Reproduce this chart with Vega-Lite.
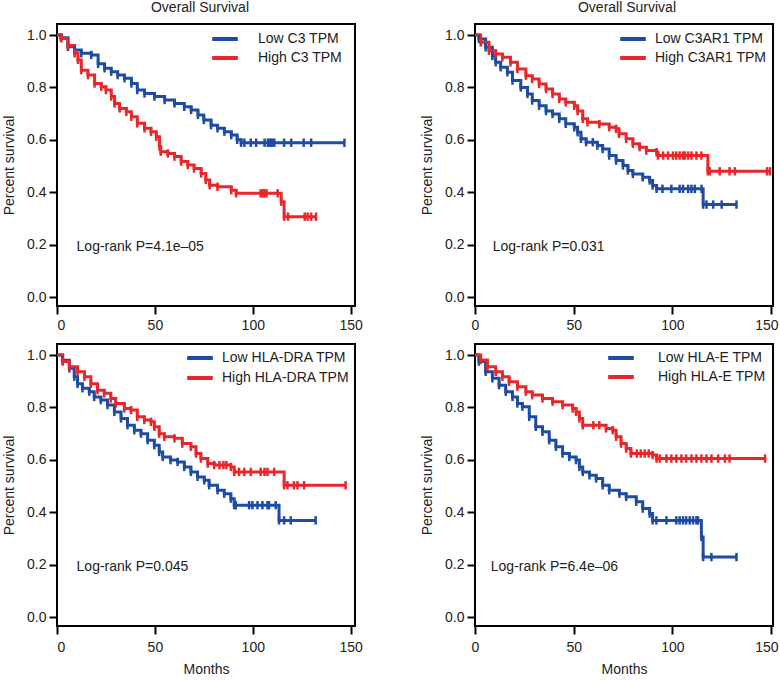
{
  "$schema": "https://vega.github.io/schema/vega-lite/v6.json",
  "padding": {"left": 1, "top": 0, "right": 0, "bottom": 0},
  "background": "white",
  "config": {
    "font": "Liberation Sans",
    "view": {"stroke": "black", "strokeWidth": 2},
    "axis": {"domain": false, "grid": false, "ticks": true, "tickColor": "black", "tickWidth": 2, "tickSize": 8, "labelFontSize": 14, "labelColor": "#222", "titleFontSize": 14, "titleFontWeight": "normal", "titleColor": "#222"},
    "title": {"fontSize": 14, "fontWeight": "normal", "color": "#222"},
    "legend": {"orient": "none", "symbolType": "M-1.6,0L1.6,0", "symbolSize": 256, "symbolStrokeWidth": 4, "labelFontSize": 14, "labelColor": "#222", "padding": 0, "rowPadding": 1}
  },
  "columns": 2,
  "spacing": {"row": 38, "column": 120},
  "bounds": "flush",
  "resolve": {"scale": {"color": "independent", "x": "independent", "y": "independent"}, "legend": {"color": "independent"}},
  "datasets": {
    "c3": [
      {"g":"Low C3 TPM","m":0,"s":1},{"g":"Low C3 TPM","m":2,"s":0.99},{"g":"Low C3 TPM","m":5.6,"s":0.955},{"g":"Low C3 TPM","m":9,"s":0.943},{"g":"Low C3 TPM","m":12.4,"s":0.93},{"g":"Low C3 TPM","m":17.5,"s":0.924},{"g":"Low C3 TPM","m":21,"s":0.89},{"g":"Low C3 TPM","m":24.3,"s":0.873},{"g":"Low C3 TPM","m":27.7,"s":0.86},{"g":"Low C3 TPM","m":31,"s":0.847},{"g":"Low C3 TPM","m":34.5,"s":0.835},{"g":"Low C3 TPM","m":38,"s":0.815},{"g":"Low C3 TPM","m":41,"s":0.79},{"g":"Low C3 TPM","m":44.7,"s":0.777},{"g":"Low C3 TPM","m":49.8,"s":0.765},{"g":"Low C3 TPM","m":55,"s":0.752},{"g":"Low C3 TPM","m":60,"s":0.739},{"g":"Low C3 TPM","m":65,"s":0.726},{"g":"Low C3 TPM","m":68.5,"s":0.714},{"g":"Low C3 TPM","m":72,"s":0.695},{"g":"Low C3 TPM","m":75,"s":0.676},{"g":"Low C3 TPM","m":78.7,"s":0.656},{"g":"Low C3 TPM","m":82,"s":0.644},{"g":"Low C3 TPM","m":85.5,"s":0.631},{"g":"Low C3 TPM","m":89,"s":0.618},{"g":"Low C3 TPM","m":92,"s":0.6},{"g":"Low C3 TPM","m":94,"s":0.589},{"g":"Low C3 TPM","m":95.7,"s":0.589},{"g":"Low C3 TPM","m":99,"s":0.589},{"g":"Low C3 TPM","m":101.7,"s":0.589},{"g":"Low C3 TPM","m":106,"s":0.589},{"g":"Low C3 TPM","m":107.7,"s":0.589},{"g":"Low C3 TPM","m":108.5,"s":0.589},{"g":"Low C3 TPM","m":109.4,"s":0.589},{"g":"Low C3 TPM","m":110,"s":0.589},{"g":"Low C3 TPM","m":111,"s":0.589},{"g":"Low C3 TPM","m":116,"s":0.589},{"g":"Low C3 TPM","m":119.6,"s":0.589},{"g":"Low C3 TPM","m":126,"s":0.589},{"g":"Low C3 TPM","m":129.8,"s":0.589},{"g":"Low C3 TPM","m":146.8,"s":0.589},
      {"g":"High C3 TPM","m":0,"s":1},{"g":"High C3 TPM","m":2.2,"s":0.987},{"g":"High C3 TPM","m":5.6,"s":0.96},{"g":"High C3 TPM","m":9,"s":0.93},{"g":"High C3 TPM","m":10.7,"s":0.905},{"g":"High C3 TPM","m":12.4,"s":0.866},{"g":"High C3 TPM","m":15.8,"s":0.847},{"g":"High C3 TPM","m":19.2,"s":0.815},{"g":"High C3 TPM","m":22.6,"s":0.803},{"g":"High C3 TPM","m":25,"s":0.79},{"g":"High C3 TPM","m":27.7,"s":0.765},{"g":"High C3 TPM","m":29.4,"s":0.739},{"g":"High C3 TPM","m":32,"s":0.72},{"g":"High C3 TPM","m":35.4,"s":0.707},{"g":"High C3 TPM","m":38,"s":0.688},{"g":"High C3 TPM","m":41,"s":0.663},{"g":"High C3 TPM","m":44.7,"s":0.644},{"g":"High C3 TPM","m":48,"s":0.631},{"g":"High C3 TPM","m":50.7,"s":0.612},{"g":"High C3 TPM","m":52.4,"s":0.574},{"g":"High C3 TPM","m":53,"s":0.555},{"g":"High C3 TPM","m":56.6,"s":0.548},{"g":"High C3 TPM","m":60,"s":0.536},{"g":"High C3 TPM","m":63.4,"s":0.517},{"g":"High C3 TPM","m":66.8,"s":0.504},{"g":"High C3 TPM","m":70,"s":0.491},{"g":"High C3 TPM","m":73.6,"s":0.472},{"g":"High C3 TPM","m":76,"s":0.447},{"g":"High C3 TPM","m":78,"s":0.427},{"g":"High C3 TPM","m":82,"s":0.421},{"g":"High C3 TPM","m":89,"s":0.408},{"g":"High C3 TPM","m":91.5,"s":0.396},{"g":"High C3 TPM","m":104,"s":0.396},{"g":"High C3 TPM","m":105,"s":0.396},{"g":"High C3 TPM","m":106,"s":0.396},{"g":"High C3 TPM","m":107,"s":0.396},{"g":"High C3 TPM","m":112.7,"s":0.396},{"g":"High C3 TPM","m":114.5,"s":0.364},{"g":"High C3 TPM","m":116,"s":0.307},{"g":"High C3 TPM","m":118,"s":0.307},{"g":"High C3 TPM","m":126.5,"s":0.307},{"g":"High C3 TPM","m":128,"s":0.307},{"g":"High C3 TPM","m":129.8,"s":0.307},{"g":"High C3 TPM","m":132.3,"s":0.307}
    ],
    "c3ar1": [
      {"g":"Low C3AR1 TPM","m":0,"s":1},{"g":"Low C3AR1 TPM","m":2,"s":0.985},{"g":"Low C3AR1 TPM","m":5.4,"s":0.953},{"g":"Low C3AR1 TPM","m":8.8,"s":0.92},{"g":"Low C3AR1 TPM","m":10.5,"s":0.896},{"g":"Low C3AR1 TPM","m":13,"s":0.877},{"g":"Low C3AR1 TPM","m":16.4,"s":0.858},{"g":"Low C3AR1 TPM","m":19,"s":0.826},{"g":"Low C3AR1 TPM","m":23.2,"s":0.8},{"g":"Low C3AR1 TPM","m":26.6,"s":0.775},{"g":"Low C3AR1 TPM","m":29,"s":0.75},{"g":"Low C3AR1 TPM","m":32.5,"s":0.73},{"g":"Low C3AR1 TPM","m":36,"s":0.71},{"g":"Low C3AR1 TPM","m":39.3,"s":0.699},{"g":"Low C3AR1 TPM","m":42.7,"s":0.68},{"g":"Low C3AR1 TPM","m":46,"s":0.661},{"g":"Low C3AR1 TPM","m":50.3,"s":0.648},{"g":"Low C3AR1 TPM","m":52,"s":0.629},{"g":"Low C3AR1 TPM","m":53.7,"s":0.604},{"g":"Low C3AR1 TPM","m":56.3,"s":0.591},{"g":"Low C3AR1 TPM","m":59.7,"s":0.591},{"g":"Low C3AR1 TPM","m":62,"s":0.578},{"g":"Low C3AR1 TPM","m":64.7,"s":0.565},{"g":"Low C3AR1 TPM","m":68,"s":0.54},{"g":"Low C3AR1 TPM","m":71.5,"s":0.521},{"g":"Low C3AR1 TPM","m":75,"s":0.502},{"g":"Low C3AR1 TPM","m":77.5,"s":0.483},{"g":"Low C3AR1 TPM","m":80,"s":0.47},{"g":"Low C3AR1 TPM","m":85,"s":0.457},{"g":"Low C3AR1 TPM","m":88.5,"s":0.445},{"g":"Low C3AR1 TPM","m":90,"s":0.426},{"g":"Low C3AR1 TPM","m":92,"s":0.413},{"g":"Low C3AR1 TPM","m":95,"s":0.413},{"g":"Low C3AR1 TPM","m":99.5,"s":0.413},{"g":"Low C3AR1 TPM","m":103.7,"s":0.413},{"g":"Low C3AR1 TPM","m":105.4,"s":0.413},{"g":"Low C3AR1 TPM","m":108,"s":0.413},{"g":"Low C3AR1 TPM","m":109.7,"s":0.413},{"g":"Low C3AR1 TPM","m":111.4,"s":0.413},{"g":"Low C3AR1 TPM","m":114.8,"s":0.413},{"g":"Low C3AR1 TPM","m":115.6,"s":0.353},{"g":"Low C3AR1 TPM","m":117.3,"s":0.353},{"g":"Low C3AR1 TPM","m":120.7,"s":0.353},{"g":"Low C3AR1 TPM","m":125,"s":0.353},{"g":"Low C3AR1 TPM","m":132.5,"s":0.353},
      {"g":"High C3AR1 TPM","m":0,"s":1},{"g":"High C3AR1 TPM","m":2.9,"s":0.972},{"g":"High C3AR1 TPM","m":7.1,"s":0.94},{"g":"High C3AR1 TPM","m":10.5,"s":0.928},{"g":"High C3AR1 TPM","m":13.9,"s":0.915},{"g":"High C3AR1 TPM","m":18,"s":0.896},{"g":"High C3AR1 TPM","m":21.5,"s":0.87},{"g":"High C3AR1 TPM","m":25.8,"s":0.845},{"g":"High C3AR1 TPM","m":29,"s":0.832},{"g":"High C3AR1 TPM","m":32.5,"s":0.813},{"g":"High C3AR1 TPM","m":36,"s":0.794},{"g":"High C3AR1 TPM","m":39.3,"s":0.775},{"g":"High C3AR1 TPM","m":42.7,"s":0.756},{"g":"High C3AR1 TPM","m":46,"s":0.743},{"g":"High C3AR1 TPM","m":50.3,"s":0.73},{"g":"High C3AR1 TPM","m":52,"s":0.71},{"g":"High C3AR1 TPM","m":54.6,"s":0.68},{"g":"High C3AR1 TPM","m":57,"s":0.667},{"g":"High C3AR1 TPM","m":63,"s":0.66},{"g":"High C3AR1 TPM","m":68,"s":0.648},{"g":"High C3AR1 TPM","m":71.5,"s":0.642},{"g":"High C3AR1 TPM","m":73,"s":0.623},{"g":"High C3AR1 TPM","m":76.6,"s":0.604},{"g":"High C3AR1 TPM","m":80,"s":0.585},{"g":"High C3AR1 TPM","m":83.4,"s":0.572},{"g":"High C3AR1 TPM","m":86.8,"s":0.559},{"g":"High C3AR1 TPM","m":92,"s":0.553},{"g":"High C3AR1 TPM","m":92.7,"s":0.54},{"g":"High C3AR1 TPM","m":95.3,"s":0.54},{"g":"High C3AR1 TPM","m":97.8,"s":0.54},{"g":"High C3AR1 TPM","m":100.3,"s":0.54},{"g":"High C3AR1 TPM","m":102,"s":0.54},{"g":"High C3AR1 TPM","m":103.7,"s":0.54},{"g":"High C3AR1 TPM","m":105.4,"s":0.54},{"g":"High C3AR1 TPM","m":106.3,"s":0.54},{"g":"High C3AR1 TPM","m":108,"s":0.54},{"g":"High C3AR1 TPM","m":109.7,"s":0.54},{"g":"High C3AR1 TPM","m":112.2,"s":0.54},{"g":"High C3AR1 TPM","m":114.7,"s":0.54},{"g":"High C3AR1 TPM","m":118,"s":0.48},{"g":"High C3AR1 TPM","m":119,"s":0.48},{"g":"High C3AR1 TPM","m":124,"s":0.48},{"g":"High C3AR1 TPM","m":129,"s":0.48},{"g":"High C3AR1 TPM","m":131.7,"s":0.48},{"g":"High C3AR1 TPM","m":148,"s":0.48},{"g":"High C3AR1 TPM","m":149.5,"s":0.48}
    ],
    "dra": [
      {"g":"Low HLA-DRA TPM","m":0,"s":1},{"g":"Low HLA-DRA TPM","m":2.9,"s":0.98},{"g":"Low HLA-DRA TPM","m":6.3,"s":0.949},{"g":"Low HLA-DRA TPM","m":8.8,"s":0.917},{"g":"Low HLA-DRA TPM","m":10.5,"s":0.89},{"g":"Low HLA-DRA TPM","m":13,"s":0.873},{"g":"Low HLA-DRA TPM","m":16.5,"s":0.86},{"g":"Low HLA-DRA TPM","m":19,"s":0.84},{"g":"Low HLA-DRA TPM","m":22.4,"s":0.828},{"g":"Low HLA-DRA TPM","m":25.8,"s":0.809},{"g":"Low HLA-DRA TPM","m":29.3,"s":0.783},{"g":"Low HLA-DRA TPM","m":32.7,"s":0.758},{"g":"Low HLA-DRA TPM","m":36,"s":0.732},{"g":"Low HLA-DRA TPM","m":39.5,"s":0.713},{"g":"Low HLA-DRA TPM","m":42.9,"s":0.7},{"g":"Low HLA-DRA TPM","m":46.3,"s":0.675},{"g":"Low HLA-DRA TPM","m":49.7,"s":0.656},{"g":"Low HLA-DRA TPM","m":52.2,"s":0.63},{"g":"Low HLA-DRA TPM","m":54,"s":0.611},{"g":"Low HLA-DRA TPM","m":58,"s":0.599},{"g":"Low HLA-DRA TPM","m":61.6,"s":0.592},{"g":"Low HLA-DRA TPM","m":65,"s":0.573},{"g":"Low HLA-DRA TPM","m":68.4,"s":0.554},{"g":"Low HLA-DRA TPM","m":71.8,"s":0.535},{"g":"Low HLA-DRA TPM","m":75.2,"s":0.522},{"g":"Low HLA-DRA TPM","m":77.7,"s":0.503},{"g":"Low HLA-DRA TPM","m":82,"s":0.484},{"g":"Low HLA-DRA TPM","m":85.4,"s":0.471},{"g":"Low HLA-DRA TPM","m":88.8,"s":0.452},{"g":"Low HLA-DRA TPM","m":90.5,"s":0.427},{"g":"Low HLA-DRA TPM","m":91.3,"s":0.427},{"g":"Low HLA-DRA TPM","m":98.1,"s":0.427},{"g":"Low HLA-DRA TPM","m":99.8,"s":0.427},{"g":"Low HLA-DRA TPM","m":102.4,"s":0.427},{"g":"Low HLA-DRA TPM","m":104.9,"s":0.427},{"g":"Low HLA-DRA TPM","m":107.5,"s":0.427},{"g":"Low HLA-DRA TPM","m":108.3,"s":0.427},{"g":"Low HLA-DRA TPM","m":111.7,"s":0.427},{"g":"Low HLA-DRA TPM","m":113.4,"s":0.369},{"g":"Low HLA-DRA TPM","m":116,"s":0.369},{"g":"Low HLA-DRA TPM","m":119.4,"s":0.369},{"g":"Low HLA-DRA TPM","m":132.1,"s":0.369},
      {"g":"High HLA-DRA TPM","m":0,"s":1},{"g":"High HLA-DRA TPM","m":2.9,"s":0.975},{"g":"High HLA-DRA TPM","m":6.3,"s":0.955},{"g":"High HLA-DRA TPM","m":10.5,"s":0.936},{"g":"High HLA-DRA TPM","m":14,"s":0.917},{"g":"High HLA-DRA TPM","m":17.3,"s":0.89},{"g":"High HLA-DRA TPM","m":20.7,"s":0.866},{"g":"High HLA-DRA TPM","m":24.1,"s":0.854},{"g":"High HLA-DRA TPM","m":27.5,"s":0.834},{"g":"High HLA-DRA TPM","m":30,"s":0.815},{"g":"High HLA-DRA TPM","m":34.4,"s":0.796},{"g":"High HLA-DRA TPM","m":37.8,"s":0.79},{"g":"High HLA-DRA TPM","m":41,"s":0.764},{"g":"High HLA-DRA TPM","m":44.6,"s":0.752},{"g":"High HLA-DRA TPM","m":48,"s":0.745},{"g":"High HLA-DRA TPM","m":49.7,"s":0.726},{"g":"High HLA-DRA TPM","m":52.2,"s":0.7},{"g":"High HLA-DRA TPM","m":54.8,"s":0.688},{"g":"High HLA-DRA TPM","m":60,"s":0.682},{"g":"High HLA-DRA TPM","m":64,"s":0.662},{"g":"High HLA-DRA TPM","m":68.4,"s":0.65},{"g":"High HLA-DRA TPM","m":71,"s":0.624},{"g":"High HLA-DRA TPM","m":73.5,"s":0.605},{"g":"High HLA-DRA TPM","m":77,"s":0.586},{"g":"High HLA-DRA TPM","m":80.3,"s":0.58},{"g":"High HLA-DRA TPM","m":83,"s":0.58},{"g":"High HLA-DRA TPM","m":85,"s":0.58},{"g":"High HLA-DRA TPM","m":86.5,"s":0.58},{"g":"High HLA-DRA TPM","m":88.8,"s":0.573},{"g":"High HLA-DRA TPM","m":90.5,"s":0.554},{"g":"High HLA-DRA TPM","m":93,"s":0.554},{"g":"High HLA-DRA TPM","m":95.6,"s":0.554},{"g":"High HLA-DRA TPM","m":99,"s":0.554},{"g":"High HLA-DRA TPM","m":104,"s":0.554},{"g":"High HLA-DRA TPM","m":106,"s":0.554},{"g":"High HLA-DRA TPM","m":107.5,"s":0.554},{"g":"High HLA-DRA TPM","m":110.9,"s":0.554},{"g":"High HLA-DRA TPM","m":116,"s":0.503},{"g":"High HLA-DRA TPM","m":117.7,"s":0.503},{"g":"High HLA-DRA TPM","m":121,"s":0.503},{"g":"High HLA-DRA TPM","m":122.8,"s":0.503},{"g":"High HLA-DRA TPM","m":126.2,"s":0.503},{"g":"High HLA-DRA TPM","m":147.4,"s":0.503}
    ],
    "hlae": [
      {"g":"Low HLA-E TPM","m":0,"s":1},{"g":"Low HLA-E TPM","m":2,"s":0.975},{"g":"Low HLA-E TPM","m":5.4,"s":0.936},{"g":"Low HLA-E TPM","m":8.8,"s":0.911},{"g":"Low HLA-E TPM","m":12.2,"s":0.885},{"g":"Low HLA-E TPM","m":15.6,"s":0.86},{"g":"Low HLA-E TPM","m":19,"s":0.84},{"g":"Low HLA-E TPM","m":21.5,"s":0.815},{"g":"Low HLA-E TPM","m":24,"s":0.803},{"g":"Low HLA-E TPM","m":27.5,"s":0.764},{"g":"Low HLA-E TPM","m":30.8,"s":0.726},{"g":"Low HLA-E TPM","m":34.2,"s":0.707},{"g":"Low HLA-E TPM","m":37.6,"s":0.675},{"g":"Low HLA-E TPM","m":41,"s":0.65},{"g":"Low HLA-E TPM","m":44.4,"s":0.624},{"g":"Low HLA-E TPM","m":47.8,"s":0.611},{"g":"Low HLA-E TPM","m":51.2,"s":0.599},{"g":"Low HLA-E TPM","m":52.9,"s":0.573},{"g":"Low HLA-E TPM","m":54.6,"s":0.554},{"g":"Low HLA-E TPM","m":58,"s":0.541},{"g":"Low HLA-E TPM","m":61.4,"s":0.529},{"g":"Low HLA-E TPM","m":64.7,"s":0.503},{"g":"Low HLA-E TPM","m":68,"s":0.484},{"g":"Low HLA-E TPM","m":73.2,"s":0.471},{"g":"Low HLA-E TPM","m":76.6,"s":0.459},{"g":"Low HLA-E TPM","m":81.7,"s":0.44},{"g":"Low HLA-E TPM","m":85,"s":0.414},{"g":"Low HLA-E TPM","m":88.5,"s":0.395},{"g":"Low HLA-E TPM","m":90,"s":0.369},{"g":"Low HLA-E TPM","m":91.9,"s":0.369},{"g":"Low HLA-E TPM","m":97,"s":0.369},{"g":"Low HLA-E TPM","m":102,"s":0.369},{"g":"Low HLA-E TPM","m":103.7,"s":0.369},{"g":"Low HLA-E TPM","m":105.4,"s":0.369},{"g":"Low HLA-E TPM","m":107,"s":0.369},{"g":"Low HLA-E TPM","m":108.8,"s":0.369},{"g":"Low HLA-E TPM","m":110.5,"s":0.369},{"g":"Low HLA-E TPM","m":112.2,"s":0.369},{"g":"Low HLA-E TPM","m":113,"s":0.369},{"g":"Low HLA-E TPM","m":114.7,"s":0.306},{"g":"Low HLA-E TPM","m":115.6,"s":0.229},{"g":"Low HLA-E TPM","m":119.8,"s":0.229},{"g":"Low HLA-E TPM","m":132.5,"s":0.229},
      {"g":"High HLA-E TPM","m":0,"s":1},{"g":"High HLA-E TPM","m":2.9,"s":0.981},{"g":"High HLA-E TPM","m":6.3,"s":0.955},{"g":"High HLA-E TPM","m":10.5,"s":0.936},{"g":"High HLA-E TPM","m":13.9,"s":0.917},{"g":"High HLA-E TPM","m":17.3,"s":0.898},{"g":"High HLA-E TPM","m":21.5,"s":0.879},{"g":"High HLA-E TPM","m":25.8,"s":0.86},{"g":"High HLA-E TPM","m":29,"s":0.847},{"g":"High HLA-E TPM","m":34.2,"s":0.834},{"g":"High HLA-E TPM","m":39.3,"s":0.822},{"g":"High HLA-E TPM","m":44.4,"s":0.809},{"g":"High HLA-E TPM","m":49.5,"s":0.796},{"g":"High HLA-E TPM","m":51.2,"s":0.783},{"g":"High HLA-E TPM","m":52.9,"s":0.758},{"g":"High HLA-E TPM","m":54.6,"s":0.732},{"g":"High HLA-E TPM","m":60,"s":0.732},{"g":"High HLA-E TPM","m":63,"s":0.732},{"g":"High HLA-E TPM","m":66.4,"s":0.72},{"g":"High HLA-E TPM","m":69.8,"s":0.713},{"g":"High HLA-E TPM","m":71.5,"s":0.688},{"g":"High HLA-E TPM","m":74,"s":0.662},{"g":"High HLA-E TPM","m":76.6,"s":0.643},{"g":"High HLA-E TPM","m":79,"s":0.624},{"g":"High HLA-E TPM","m":82,"s":0.624},{"g":"High HLA-E TPM","m":84,"s":0.624},{"g":"High HLA-E TPM","m":86,"s":0.624},{"g":"High HLA-E TPM","m":88,"s":0.624},{"g":"High HLA-E TPM","m":90,"s":0.618},{"g":"High HLA-E TPM","m":92,"s":0.605},{"g":"High HLA-E TPM","m":93.6,"s":0.605},{"g":"High HLA-E TPM","m":97,"s":0.605},{"g":"High HLA-E TPM","m":99.5,"s":0.605},{"g":"High HLA-E TPM","m":102,"s":0.605},{"g":"High HLA-E TPM","m":104.6,"s":0.605},{"g":"High HLA-E TPM","m":107,"s":0.605},{"g":"High HLA-E TPM","m":109.7,"s":0.605},{"g":"High HLA-E TPM","m":112.2,"s":0.605},{"g":"High HLA-E TPM","m":114.7,"s":0.605},{"g":"High HLA-E TPM","m":117.3,"s":0.605},{"g":"High HLA-E TPM","m":119.8,"s":0.605},{"g":"High HLA-E TPM","m":123.2,"s":0.605},{"g":"High HLA-E TPM","m":126.6,"s":0.605},{"g":"High HLA-E TPM","m":129,"s":0.605},{"g":"High HLA-E TPM","m":147,"s":0.605}
    ]
  },
  "concat": [
    {
      "width": 298, "height": 282,
      "title": {"text": "Overall Survival", "offset": 9, "dx": -6},
      "data": {"name": "c3"},
      "encoding": {
        "x": {"field": "m", "type": "quantitative", "scale": {"domain": [0, 152.2], "nice": false, "zero": false}, "axis": {"values": [0, 50, 100, 150], "title": null, "labelPadding": 4}},
        "y": {"field": "s", "type": "quantitative", "scale": {"domain": [-0.034, 1.042], "nice": false, "zero": false}, "axis": {"values": [0, 0.2, 0.4, 0.6, 0.8, 1], "format": ".1f", "title": "Percent survival", "labelPadding": 3, "titlePadding": 10}},
        "color": {"field": "g", "type": "nominal", "scale": {"domain": ["Low C3 TPM", "High C3 TPM"], "range": ["#1d4ca2", "#e8262b"]}, "legend": {"title": null, "legendX": 158, "legendY": 5, "labelOffset": 23}}
      },
      "layer": [
        {"mark": {"type": "line", "interpolate": "step-after", "strokeWidth": 3}},
        {"transform": [{"filter": "datum.m > 0"}], "mark": {"type": "point", "shape": "M0,-1L0,1", "size": 70, "strokeWidth": 2.5, "opacity": 1}},
        {"data": {"values": [{"m": 10, "s": 0.19, "t": "Log-rank P=4.1e–05"}]}, "mark": {"type": "text", "align": "left", "baseline": "middle", "fontSize": 14}, "encoding": {"text": {"field": "t"}, "color": {"value": "#222"}}}
      ]
    },
    {
      "width": 298, "height": 282,
      "title": {"text": "Overall Survival", "offset": 9, "dx": 3},
      "data": {"name": "c3ar1"},
      "encoding": {
        "x": {"field": "m", "type": "quantitative", "scale": {"domain": [0, 151], "nice": false, "zero": false}, "axis": {"values": [0, 50, 100, 150], "title": null, "labelPadding": 4, "labelAlign": {"condition": {"test": "datum.value == 150", "value": "right"}, "value": "center"}, "labelOffset": {"condition": {"test": "datum.value == 150", "value": 7}, "value": 0}}},
        "y": {"field": "s", "type": "quantitative", "scale": {"domain": [-0.034, 1.042], "nice": false, "zero": false}, "axis": {"values": [0, 0.2, 0.4, 0.6, 0.8, 1], "format": ".1f", "title": "Percent survival", "labelPadding": 3, "titlePadding": 10}},
        "color": {"field": "g", "type": "nominal", "scale": {"domain": ["Low C3AR1 TPM", "High C3AR1 TPM"], "range": ["#1d4ca2", "#e8262b"]}, "legend": {"title": null, "legendX": 148, "legendY": 5, "labelOffset": 12}}
      },
      "layer": [
        {"mark": {"type": "line", "interpolate": "step-after", "strokeWidth": 3}},
        {"transform": [{"filter": "datum.m > 0"}], "mark": {"type": "point", "shape": "M0,-1L0,1", "size": 70, "strokeWidth": 2.5, "opacity": 1}},
        {"data": {"values": [{"m": 9, "s": 0.19, "t": "Log-rank P=0.031"}]}, "mark": {"type": "text", "align": "left", "baseline": "middle", "fontSize": 14}, "encoding": {"text": {"field": "t"}, "color": {"value": "#222"}}}
      ]
    },
    {
      "width": 298, "height": 282,
      "data": {"name": "dra"},
      "encoding": {
        "x": {"field": "m", "type": "quantitative", "scale": {"domain": [0, 152.2], "nice": false, "zero": false}, "axis": {"values": [0, 50, 100, 150], "title": "Months", "labelPadding": 6, "titlePadding": 8}},
        "y": {"field": "s", "type": "quantitative", "scale": {"domain": [-0.034, 1.042], "nice": false, "zero": false}, "axis": {"values": [0, 0.2, 0.4, 0.6, 0.8, 1], "format": ".1f", "title": "Percent survival", "labelPadding": 3, "titlePadding": 10}},
        "color": {"field": "g", "type": "nominal", "scale": {"domain": ["Low HLA-DRA TPM", "High HLA-DRA TPM"], "range": ["#1d4ca2", "#e8262b"]}, "legend": {"title": null, "legendX": 133, "legendY": 4, "labelOffset": 12, "rowPadding": 2}}
      },
      "layer": [
        {"mark": {"type": "line", "interpolate": "step-after", "strokeWidth": 3}},
        {"transform": [{"filter": "datum.m > 0"}], "mark": {"type": "point", "shape": "M0,-1L0,1", "size": 70, "strokeWidth": 2.5, "opacity": 1}},
        {"data": {"values": [{"m": 10, "s": 0.19, "t": "Log-rank P=0.045"}]}, "mark": {"type": "text", "align": "left", "baseline": "middle", "fontSize": 14}, "encoding": {"text": {"field": "t"}, "color": {"value": "#222"}}}
      ]
    },
    {
      "width": 298, "height": 282,
      "data": {"name": "hlae"},
      "encoding": {
        "x": {"field": "m", "type": "quantitative", "scale": {"domain": [0, 151], "nice": false, "zero": false}, "axis": {"values": [0, 50, 100, 150], "title": "Months", "labelPadding": 6, "titlePadding": 8, "labelAlign": {"condition": {"test": "datum.value == 150", "value": "right"}, "value": "center"}, "labelOffset": {"condition": {"test": "datum.value == 150", "value": 7}, "value": 0}}},
        "y": {"field": "s", "type": "quantitative", "scale": {"domain": [-0.034, 1.042], "nice": false, "zero": false}, "axis": {"values": [0, 0.2, 0.4, 0.6, 0.8, 1], "format": ".1f", "title": "Percent survival", "labelPadding": 3, "titlePadding": 10}},
        "color": {"field": "g", "type": "nominal", "scale": {"domain": ["Low HLA-E TPM", "High HLA-E TPM"], "range": ["#1d4ca2", "#e8262b"]}, "legend": {"title": null, "legendX": 136, "legendY": 4, "labelOffset": 27}}
      },
      "layer": [
        {"mark": {"type": "line", "interpolate": "step-after", "strokeWidth": 3}},
        {"transform": [{"filter": "datum.m > 0"}], "mark": {"type": "point", "shape": "M0,-1L0,1", "size": 70, "strokeWidth": 2.5, "opacity": 1}},
        {"data": {"values": [{"m": 8, "s": 0.19, "t": "Log-rank P=6.4e–06"}]}, "mark": {"type": "text", "align": "left", "baseline": "middle", "fontSize": 14}, "encoding": {"text": {"field": "t"}, "color": {"value": "#222"}}}
      ]
    }
  ]
}
